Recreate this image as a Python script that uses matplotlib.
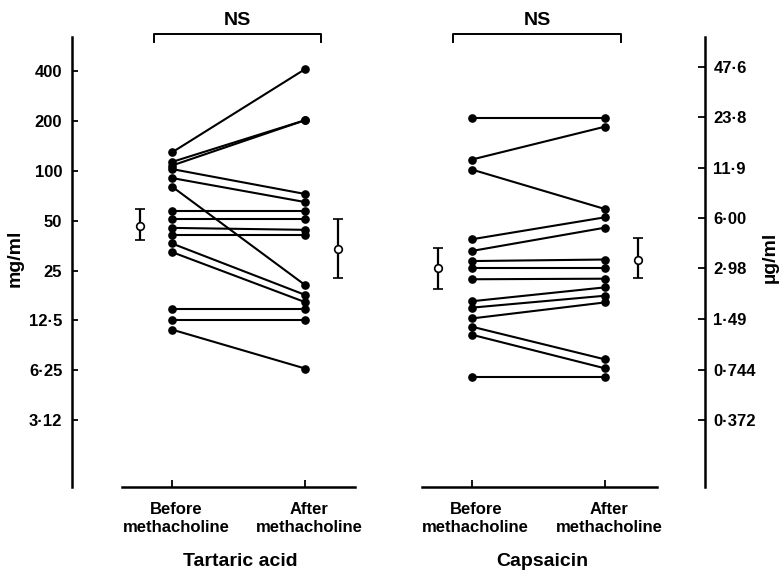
import matplotlib
matplotlib.use("Agg")
import matplotlib.pyplot as plt
import matplotlib.transforms as mtransforms
from matplotlib.ticker import FixedLocator, NullLocator

plt.rcParams['font.family'] = ['Liberation Sans', 'DejaVu Sans']
plt.rcParams['font.weight'] = 'bold'

# ---- data ----
conditions = ["Before\nmethacholine", "After\nmethacholine"]
panels = ["Tartaric acid", "Capsaicin"]

tartaric_before = [129, 113, 107.5, 102.4, 90.4, 80.3, 57.3, 50.9, 45.2, 40.7, 36.4, 32.3, 14.6, 12.6, 11.0]
tartaric_after = [411, 202, 202, 72.4, 64.7, 20.4, 57.3, 50.9, 44.0, 40.7, 17.8, 16.1, 14.6, 12.6, 6.4]
tartaric_mean = [46.5, 33.7]
tartaric_low = [38.2, 22.5]
tartaric_high = [58.7, 51.2]

capsaicin_before = [23.4, 13.3, 11.6, 4.45, 3.79, 3.30, 2.98, 2.57, 1.90, 1.74, 1.50, 1.34, 1.20, 0.669]
capsaicin_after = [23.4, 20.9, 6.74, 6.02, 5.22, 3.37, 2.98, 2.59, 2.30, 2.05, 1.87, 0.855, 0.756, 0.669]
capsaicin_mean = [2.99, 3.35]
capsaicin_low = [2.26, 2.60]
capsaicin_high = [3.95, 4.55]

left_ticks = [400, 200, 100, 50, 25, 12.5, 6.25, 3.12]
left_ticklabels = ["400", "200", "100", "50", "25", "12·5", "6·25", "3·12"]
right_ticks = [47.6, 23.8, 11.9, 6.00, 2.98, 1.49, 0.744, 0.372]
right_ticklabels = ["47·6", "23·8", "11·9", "6·00", "2·98", "1·49", "0·744", "0·372"]

# ---- layout ----
W, H = 779, 573
fig = plt.figure(figsize=(W / 100, H / 100), dpi=100)
ax = fig.add_axes([72 / W, (H - 487) / H, 633 / W, 450 / H])
ax2 = ax.twinx()

ax.set_xlim(-0.75, 4.0)
ax.set_yscale('log', base=2)
ax.set_ylim(1.2337, 641.7)
ax2.set_yscale('log', base=2)
ax2.set_ylim(0.1482, 71.6)

xpos_left = [0, 1]
xpos_right = [2.25, 3.25]
mean_x_left = [-0.24, 1.246]
mean_x_right = [1.997, 3.497]

lw = 1.5
ms = 5.2
for b, a in zip(tartaric_before, tartaric_after):
    ax.plot(xpos_left, [b, a], color='black', lw=lw, marker='o', ms=ms, zorder=3)
for b, a in zip(capsaicin_before, capsaicin_after):
    ax2.plot(xpos_right, [b, a], color='black', lw=lw, marker='o', ms=ms, zorder=3)

caps = [3.3, 3.8]
for i in range(2):
    m = tartaric_mean[i]
    ax.errorbar([mean_x_left[i]], [m],
                yerr=[[m - tartaric_low[i]], [tartaric_high[i] - m]],
                fmt='o', mfc='white', mec='black', ms=5.5, mew=1.2,
                ecolor='black', elinewidth=1.6, capsize=caps[i], capthick=1.6, zorder=4)
    m = capsaicin_mean[i]
    ax2.errorbar([mean_x_right[i]], [m],
                 yerr=[[m - capsaicin_low[i]], [capsaicin_high[i] - m]],
                 fmt='o', mfc='white', mec='black', ms=5.5, mew=1.2,
                 ecolor='black', elinewidth=1.6, capsize=caps[i], capthick=1.6, zorder=4)

# spines
for s in ['top', 'bottom', 'right']:
    ax.spines[s].set_visible(False)
for s in ['top', 'bottom', 'left']:
    ax2.spines[s].set_visible(False)
ax.spines['left'].set_linewidth(1.8)
ax2.spines['right'].set_linewidth(1.8)

# y ticks
ax.yaxis.set_major_locator(FixedLocator(left_ticks))
ax.yaxis.set_minor_locator(NullLocator())
ax.set_yticklabels(left_ticklabels)
ax.tick_params(axis='y', direction='in', length=4, width=1.3, pad=7, labelsize=12)
ax2.yaxis.set_major_locator(FixedLocator(right_ticks))
ax2.yaxis.set_minor_locator(NullLocator())
ax2.set_yticklabels(right_ticklabels)
ax2.tick_params(axis='y', direction='in', length=5, width=1.3, pad=6, labelsize=12)

# x ticks
ax.set_xticks(xpos_left + xpos_right)
ax.set_xticklabels(conditions + conditions)
ax.tick_params(axis='x', direction='in', length=5, width=1.3, pad=11, labelsize=12)
offset = mtransforms.ScaledTranslation(4 / 100, 0, fig.dpi_scale_trans)
for lab in ax.get_xticklabels():
    lab.set_transform(lab.get_transform() + offset)

# bottom axis segments
trans = mtransforms.blended_transform_factory(ax.transData, ax.transAxes)
ax.plot([-0.375, 1.374], [0, 0], color='black', lw=1.8, transform=trans, clip_on=False)
ax.plot([1.876, 3.64], [0, 0], color='black', lw=1.8, transform=trans, clip_on=False)

# NS brackets
for x0, x1 in [(-0.135, 1.119), (2.107, 3.37)]:
    ax.plot([x0, x0, x1, x1], [0.9878, 1.0067, 1.0067, 0.9878], color='black', lw=1.4,
            transform=trans, clip_on=False)
    ax.text((x0 + x1) / 2, 1.0356, "NS", transform=trans, ha='center', va='center',
            fontsize=14)

# panel titles
fig.text(240 / W, 1 - 562 / H, panels[0], ha='center', va='center', fontsize=14)
fig.text(542 / W, 1 - 562 / H, panels[1], ha='center', va='center', fontsize=14)

# axis labels
fig.text(15 / W, 1 - 258 / H, "mg/ml", rotation=90, ha='center', va='center', fontsize=14)
fig.text(770 / W, 1 - 257 / H, "µg/ml", rotation=90, ha='center', va='center', fontsize=14)

fig.savefig("out.png", dpi=100)
